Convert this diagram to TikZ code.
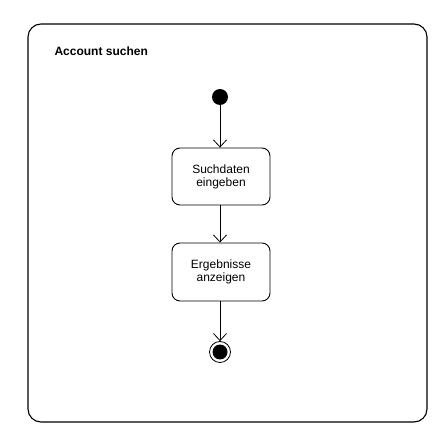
\documentclass[tikz,border=0pt]{standalone}
\usepackage{fontspec}
\setmainfont{Liberation Sans}
\usetikzlibrary{arrows.meta}

\tikzset{
    action/.style={draw, rounded corners=8pt, minimum width=98pt, minimum height=57pt, align=center, font=\fontsize{12}{13}\selectfont, line width=0.9pt},
    flow/.style={-{Straight Barb[length=7pt, width=13pt]}, line width=0.8pt}
}

\begin{document}
\begin{tikzpicture}[x=1pt, y=1pt]
        \useasboundingbox (0,0) rectangle (439,434);

        % Frame
        \draw[line width=1.1pt, rounded corners=13pt] (28,12) rectangle (427,410);
        \node[anchor=west, font=\bfseries\fontsize{12}{13}\selectfont] (title) at (51,383) {Account suchen};

        % Start and end
        \node[circle, fill=black, inner sep=0pt, minimum size=16pt] (start) at (220,337) {};
        \node[action] (enter) at (221,257.5) {Suchdaten\\eingeben};
        \node[action, minimum height=58pt] (show) at (221,162) {Ergebnisse\\anzeigen};
        \node[circle, draw, line width=0.8pt, inner sep=0pt, minimum size=21pt] (stop) at (220,82) {};
        \node[circle, fill=black, inner sep=0pt, minimum size=15pt] at (stop) {};

        % Transitions
        \draw[flow] (start) -- (start |- enter.north);
        \draw[flow] (enter.south -| start) -- (start |- show.north);
        \draw[flow] (show.south -| start) -- (stop);
    \end{tikzpicture}
\end{document}
